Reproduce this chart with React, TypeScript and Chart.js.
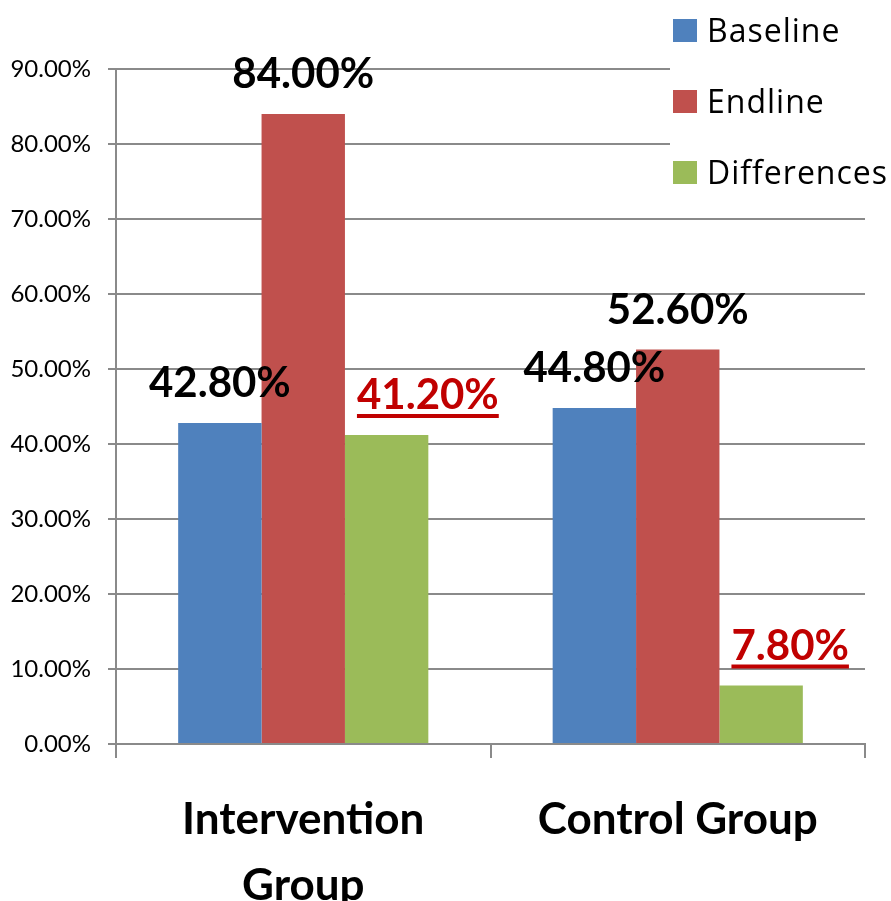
import React, { useEffect, useRef } from "react";
import { Chart, registerables } from "chart.js";

Chart.register(...registerables);

// ---- data ----
const categories: (string | string[])[] = [["Intervention", "Group"], "Control Group"];
const seriesNames = ["Baseline", "Endline", "Differences"];
const baselineValues = [42.8, 44.8];
const endlineValues = [84.0, 52.6];
const differenceValues = [41.2, 7.8];
const yMin = 0;
const yMax = 90;
const yStep = 10;

// ---- styles ----
const seriesColors = ["#4F81BD", "#C0504D", "#9BBB59"];
const gridColor = "#8a8a8a";
const labelStyles = [
  { color: "#000000", align: "center", underline: false, rise: 26, dx: 0 },
  { color: "#000000", align: "center", underline: false, rise: 26, dx: 0 },
  { color: "#C00000", align: "left", underline: true, rise: 26, dx: 12 },
];

const valueLabels = {
  id: "valueLabels",
  afterDatasetsDraw(chart: any) {
    const ctx = chart.ctx;
    chart.data.datasets.forEach((ds: any, di: number) => {
      const meta = chart.getDatasetMeta(di);
      const st = labelStyles[di];
      meta.data.forEach((bar: any, i: number) => {
        const v = ds.data[i] as number;
        const text = v.toFixed(2) + "%";
        const { x, y, width } = bar.getProps(["x", "y", "width"], true);
        ctx.save();
        ctx.font = "bold 42px Lato, 'Open Sans', sans-serif";
        ctx.fillStyle = st.color;
        ctx.textBaseline = "alphabetic";
        ctx.textAlign = "left";
        const w = ctx.measureText(text).width;
        const left = st.align === "left" ? x - width / 2 + st.dx : x - w / 2;
        const base = y - st.rise;
        ctx.fillText(text, left, base);
        if (st.underline) ctx.fillRect(left, base + 5, w, 4);
        ctx.restore();
      });
    });
  },
};

const sideLegend = {
  id: "sideLegend",
  afterDraw(chart: any) {
    const ctx = chart.ctx;
    ctx.save();
    ctx.fillStyle = "#ffffff";
    ctx.fillRect(670, 0, chart.width - 670, 192);
    chart.data.datasets.forEach((ds: any, i: number) => {
      const base = 42 + i * 71;
      ctx.fillStyle = ds.backgroundColor;
      ctx.fillRect(673, base - 23, 24, 23);
      ctx.fillStyle = "#000000";
      ctx.font = "32px 'Open Sans', sans-serif";
      (ctx as any).letterSpacing = "1px";
      ctx.textBaseline = "alphabetic";
      ctx.textAlign = "left";
      ctx.fillText(ds.label, 707, base);
    });
    (ctx as any).letterSpacing = "0px";
    ctx.restore();
  },
};

export default function App() {
  const ref = useRef<HTMLCanvasElement | null>(null);

  useEffect(() => {
    document.body.style.margin = "0";
    const canvas = ref.current!;
    const seriesValues = [baselineValues, endlineValues, differenceValues];
    const chart = new Chart(canvas, {
      type: "bar",
      data: {
        labels: categories,
        datasets: seriesNames.map((name, i) => ({
          label: name,
          data: seriesValues[i],
          backgroundColor: seriesColors[i],
          borderWidth: 0,
          barPercentage: 1,
          categoryPercentage: 0.668,
        })),
      },
      options: {
        responsive: false,
        animation: false,
        devicePixelRatio: 1,
        layout: { padding: { left: 0, top: 69, right: 26, bottom: 0 } },
        plugins: {
          legend: { display: false },
          tooltip: { enabled: false },
          title: { display: false },
        },
        scales: {
          x: {
            type: "category",
            offset: true,
            grid: {
              offset: true,
              drawOnChartArea: false,
              drawTicks: true,
              tickLength: 14,
              color: gridColor,
              lineWidth: 2,
            },
            border: { display: true, color: gridColor, width: 2 },
            ticks: {
              color: "#000000",
              padding: 29,
              maxRotation: 0,
              autoSkip: false,
              font: { family: "Lato, 'Open Sans', sans-serif", weight: "bold", size: 44, lineHeight: 1.5 },
            },
            afterFit(scale: any) {
              scale.height = 157;
            },
          },
          y: {
            min: yMin,
            max: yMax,
            ticks: {
              stepSize: yStep,
              color: "#000000",
              padding: 17,
              font: { family: "Lato, 'Open Sans', sans-serif", size: 24 },
              callback: (v: any) => Number(v).toFixed(2) + "%",
            },
            grid: {
              color: gridColor,
              lineWidth: 2,
              tickLength: 8,
              drawTicks: true,
            },
            border: { display: true, color: gridColor, width: 2 },
            afterFit(scale: any) {
              scale.width = 116;
            },
          },
        },
      },
      plugins: [valueLabels, sideLegend],
    });
    return () => chart.destroy();
  }, []);

  return (
    <div style={{ position: "absolute", left: 0, top: 0, width: 891, height: 901, background: "#fff" }}>
      <canvas ref={ref} width={891} height={901} />
    </div>
  );
}
